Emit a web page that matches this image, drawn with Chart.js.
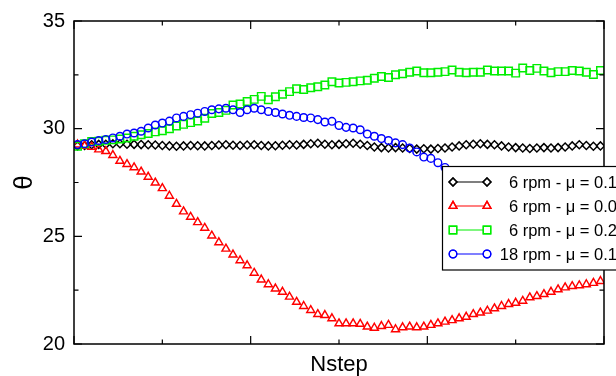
<!DOCTYPE html>
<html><head><meta charset="utf-8">
<script src="https://cdn.jsdelivr.net/npm/chart.js@4/dist/chart.umd.min.js"></script>
<style>html,body{margin:0;padding:0;background:#fff;overflow:hidden}#wrap{width:616px;height:376px;position:relative}</style>
</head><body><div id="wrap"><canvas id="c" width="616" height="376"></canvas></div>
<script>
const nstep = [4,12,20,28,36,44,52,60,68,76,84,92,100,108,116,124,132,140,148,156,164,172,180,188,196,204,212,220,228,236,244,252,260,268,276,284,292,300,308,316,324,332,340,348,356,364,372,380,388,396,404,412,420,428,436,444,452,460,468,476,484,492,500,508,516,524,532,540,548,556,564,572,580,588,596];

const theta6rpmMu01 = [29.2,29.22,29.25,29.27,29.28,29.3,29.3,29.28,29.27,29.26,
29.25,29.24,29.22,29.2,29.18,29.2,29.22,29.21,29.2,29.22,
29.24,29.25,29.23,29.22,29.24,29.25,29.22,29.2,29.21,29.23,
29.25,29.24,29.27,29.3,29.32,29.28,29.25,29.27,29.3,29.32,
29.28,29.22,29.15,29.12,29.1,29.12,29.1,29.08,29.05,29.07,
29.05,29.08,29.1,29.15,29.2,29.25,29.28,29.3,29.27,29.25,
29.2,29.15,29.12,29.1,29.08,29.1,29.12,29.1,29.12,29.15,
29.2,29.25,29.22,29.18,29.2];

const theta6rpmMu00 = [29.26,29.2,29.15,29.03,28.95,28.77,28.5,28.35,28.2,28.0,
27.76,27.49,27.23,26.88,26.5,26.15,25.9,25.65,25.39,25.03,
24.72,24.42,24.15,23.88,23.65,23.3,22.99,22.77,22.57,22.42,
22.19,21.95,21.76,21.57,21.38,21.34,21.19,20.95,20.95,20.95,
20.93,20.8,20.75,20.83,20.88,20.68,20.77,20.8,20.77,20.8,
20.88,20.95,21.03,21.1,21.19,21.26,21.38,21.45,21.54,21.65,
21.76,21.85,21.91,22.0,22.16,22.22,22.31,22.42,22.53,22.62,
22.68,22.72,22.77,22.83,22.92];

const theta6rpmMu02 = [29.18,29.3,29.4,29.42,29.46,29.48,29.52,29.57,29.65,29.72,
29.78,29.85,29.9,30.0,30.12,30.2,30.28,30.36,30.48,30.7,
30.75,30.85,31.1,31.15,31.26,31.36,31.5,31.34,31.48,31.6,
31.72,31.85,31.82,31.9,31.95,32.03,32.18,32.12,32.15,32.18,
32.22,32.25,32.34,32.42,32.38,32.5,32.55,32.62,32.68,32.6,
32.6,32.62,32.65,32.72,32.62,32.6,32.62,32.62,32.72,32.68,
32.68,32.68,32.58,32.82,32.7,32.8,32.68,32.6,32.65,32.65,
32.7,32.68,32.62,32.52,32.7];

const theta18rpmMu01 = [29.26,29.3,29.38,29.45,29.5,29.57,29.65,29.75,29.8,29.88,
30.03,30.17,30.26,30.35,30.5,30.57,30.65,30.72,30.8,30.88,
30.92,30.95,30.88,30.75,30.88,30.95,30.88,30.8,30.75,30.68,
30.62,30.57,30.52,30.5,30.42,30.31,30.34,30.15,30.06,30.03,
29.95,29.75,29.65,29.54,29.45,29.34,29.26,29.1,28.92,28.68,
28.62,28.42,28.2,28.0,27.8,27.6,27.45,27.3,27.15,27.0,
26.9,26.8,26.7,26.6,26.55,26.5,26.45,26.4,26.38,26.35,
26.3,26.3,26.28,26.25,26.25];

const seriesLabels = ['6 rpm - \u03bc = 0.1','6 rpm - \u03bc = 0.0','6 rpm - \u03bc = 0.2','18 rpm - \u03bc = 0.1'];
const yMajorTicks = [20,25,30,35];
const yMinorTicks = [22.5,27.5,32.5];
const xMajorTicks = [0,200,400,600];
const xMinorTicks = [100,300,500];

const FONT = "'Liberation Sans', Arial, Helvetica, sans-serif";

function pts(arr){ return nstep.map((x,i)=>({x:x, y:arr[i]})); }

const styles = [
  {color:'#000000', style:'rectRot', radius:4.0, order:3},
  {color:'#ff0000', style:'triangle', radius:4.6, order:2},
  {color:'#00ee00', style:'rect', radius:5.3, order:1},
  {color:'#0000ff', style:'circle', radius:3.8, order:0}
];
const seriesData = [theta6rpmMu01, theta6rpmMu00, theta6rpmMu02, theta18rpmMu01];

const datasets = seriesData.map((d,k)=>({
  label: seriesLabels[k],
  data: pts(d),
  showLine: false,
  borderColor: styles[k].color,
  backgroundColor: 'rgba(0,0,0,0)',
  pointStyle: styles[k].style,
  pointRadius: styles[k].radius,
  pointBorderWidth: 1.45,
  pointBorderColor: styles[k].color,
  pointBackgroundColor: 'rgba(0,0,0,0)',
  order: styles[k].order
}));

const framePlugin = {
  id:'frame',
  afterDatasetsDraw(chart){
    const ctx = chart.ctx, a = chart.chartArea, xs = chart.scales.x, ys = chart.scales.y;
    ctx.save();
    ctx.strokeStyle = '#000'; ctx.lineWidth = 1.5;
    ctx.strokeRect(a.left, a.top, a.right - a.left, a.bottom - a.top);
    ctx.lineWidth = 1.2;
    ctx.beginPath();
    const tick = (vals, len) => {
      vals.forEach(v=>{
        const y = ys.getPixelForValue(v);
        ctx.moveTo(a.left, y); ctx.lineTo(a.left + len, y);
        ctx.moveTo(a.right, y); ctx.lineTo(a.right - len, y);
      });
    };
    tick(yMajorTicks, 8); tick(yMinorTicks, 4.5);
    const xtick = (vals, len) => {
      vals.forEach(v=>{
        const x = xs.getPixelForValue(v);
        ctx.moveTo(x, a.bottom); ctx.lineTo(x, a.bottom - len);
        ctx.moveTo(x, a.top); ctx.lineTo(x, a.top + len);
      });
    };
    xtick(xMajorTicks, 8); xtick(xMinorTicks, 4.5);
    ctx.stroke();
    ctx.restore();
  }
};

function drawMarker(ctx, st, x, y){
  Chart.helpers.drawPoint(ctx, {pointStyle: st.style, radius: st.radius, rotation: 0, borderWidth: 1.3}, x, y);
  ctx.stroke();
}

const legendPlugin = {
  id:'boxlegend',
  afterDraw(chart){
    const ctx = chart.ctx;
    ctx.save();
    ctx.fillStyle = '#fff';
    ctx.fillRect(442, 166, 200, 104);
    ctx.strokeStyle = '#000'; ctx.lineWidth = 1.2;
    ctx.strokeRect(442.5, 166.5, 200, 103.5);
    ctx.font = '16.5px ' + FONT;
    ctx.textBaseline = 'middle';
    ctx.textAlign = 'right';
    seriesLabels.forEach((lab,k)=>{
      const y = 182 + k*24;
      const st = styles[k];
      ctx.strokeStyle = st.color; ctx.lineWidth = 1.2;
      ctx.beginPath(); ctx.moveTo(453, y); ctx.lineTo(487, y); ctx.stroke();
      ctx.fillStyle = '#fff';
      ctx.strokeStyle = st.color; ctx.lineWidth = 1.3;
      drawMarker(ctx, st, 453, y);
      drawMarker(ctx, st, 487, y);
      ctx.fillStyle = '#000';
      ctx.fillText(lab, 617, y + 1);
    });
    ctx.restore();
  }
};

new Chart(document.getElementById('c'), {
  type: 'scatter',
  data: { datasets },
  options: {
    responsive: false,
    animation: false,
    devicePixelRatio: 1,
    layout: { padding: { top: 19, right: 12, left: 0, bottom: 0 } },
    plugins: { legend: { display: false }, tooltip: { enabled: false } },
    scales: {
      x: {
        type: 'linear', min: 0, max: 600,
        ticks: { display: false },
        grid: { display: false, drawTicks: false },
        border: { display: false },
        title: { display: true, text: 'Nstep', color: '#000', font: { family: FONT, size: 22, lineHeight: 1.0 }, padding: { top: 0, bottom: 0 } },
        afterFit(s){ s.height = 32; }
      },
      y: {
        type: 'linear', min: 20, max: 35,
        ticks: { stepSize: 5, color: '#000', font: { family: FONT, size: 20 }, padding: 9 },
        grid: { display: false, drawTicks: false },
        border: { display: false },
        title: { display: true, text: '\u03b8', color: '#000', font: { family: FONT, size: 26 }, padding: { top: 9, bottom: 0 } },
        afterFit(s){ s.width = 74; }
      }
    }
  },
  plugins: [framePlugin, legendPlugin]
});
</script></body></html>
